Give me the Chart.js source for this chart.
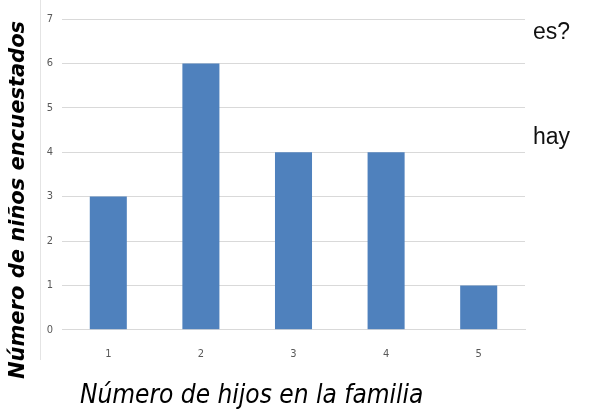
<!DOCTYPE html>
<html>
<head>
<meta charset="utf-8">
<script src="https://cdn.jsdelivr.net/npm/chart.js@4"></script>
<style>
  html, body { margin: 0; padding: 0; background: #fff; }
  #wrap { position: relative; width: 596px; height: 420px; }
  .side { position: absolute; font-family: "Liberation Sans", Arial, sans-serif; font-size: 23px; color: #111; }
  #frame { position: absolute; left: 40px; top: 0; width: 0; height: 360px; border-left: 1px solid #e4e4e4; }
  #xtitle { position: absolute; left: 80px; top: 379px; font-family: "DejaVu Sans Condensed", sans-serif; font-style: italic; font-size: 26px; color: #000; white-space: nowrap; }
  #ytitle { position: absolute; left: 17px; top: 200px; transform: translate(-50%, -50%) rotate(-90deg); font-family: "DejaVu Sans", sans-serif; font-style: italic; font-weight: bold; font-size: 21px; color: #000; white-space: nowrap; }
</style>
</head>
<body>
<div id="wrap">
  <canvas id="c" width="596" height="420"></canvas>
  <div id="frame"></div>
  <span class="side" style="left:533px; top:18px;">es?</span>
  <span class="side" style="left:533px; top:123px;">hay</span>
  <div id="ytitle">Número de niños encuestados</div>
  <div id="xtitle">Número de hijos en la familia</div>
</div>
<script>
const categories = ['1', '2', '3', '4', '5'];
const children = [3, 6, 4, 4, 1];
const yTicks = [0, 1, 2, 3, 4, 5, 6, 7];

const tickFont = { family: 'DejaVu Sans Condensed', size: 11 };

const ctx = document.getElementById('c').getContext('2d');
new Chart(ctx, {
  type: 'bar',
  data: {
    labels: categories,
    datasets: [{
      data: children,
      backgroundColor: '#4f81bd',
      barPercentage: 0.4,
      categoryPercentage: 1.0
    }]
  },
  options: {
    responsive: false,
    animation: false,
    layout: { padding: { top: 19, right: 71, left: 0, bottom: 49 } },
    plugins: { legend: { display: false }, tooltip: { enabled: false } },
    scales: {
      x: {
        grid: { display: false },
        border: { display: true, color: '#d9d9d9', width: 1 },
        ticks: { color: '#595959', font: tickFont, padding: 10 }
      },
      y: {
        min: 0,
        max: 7,
        afterBuildTicks: (axis) => { axis.ticks = yTicks.map(v => ({ value: v })); },
        afterFit: (axis) => { axis.width = 62; },
        grid: { color: '#d9d9d9', drawTicks: false },
        border: { display: false },
        ticks: { color: '#595959', font: tickFont, padding: 9 }
      }
    }
  }
});
</script>
</body>
</html>
